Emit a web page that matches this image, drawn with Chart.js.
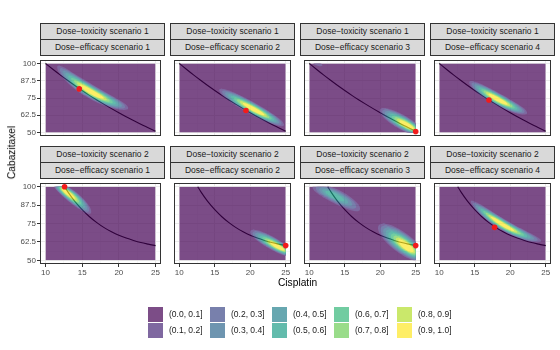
<!DOCTYPE html>
<html>
<head>
<meta charset="utf-8">
<script src="https://cdn.jsdelivr.net/npm/chart.js@4.4.1/dist/chart.umd.min.js"></script>
<style>
  body { margin: 0; width: 560px; height: 350px; background: #fff; position: relative; overflow: hidden;
         font-family: "Liberation Sans", Arial, sans-serif; }
  .strip { position: absolute; box-sizing: border-box; background: #d9d9d9; border: 1px solid #333;
           color: #1a1a1a; font-size: 8.5px; text-align: center; line-height: 15px; white-space: nowrap; }
  canvas { position: absolute; }
  .title { position: absolute; color: #000; font-size: 10.2px; white-space: nowrap; }
  .key { position: absolute; width: 15px; height: 15px; }
  .klab { position: absolute; font-size: 8.5px; color: #1a1a1a; white-space: nowrap; line-height: 15px; }
</style>
</head>
<body>
<script>
// facet labels
const toxLabels = ['Dose\u2212toxicity scenario 1', 'Dose\u2212toxicity scenario 2'];
const effLabels = ['Dose\u2212efficacy scenario 1', 'Dose\u2212efficacy scenario 2',
                   'Dose\u2212efficacy scenario 3', 'Dose\u2212efficacy scenario 4'];

// axis ticks
const xMajor = [10, 15, 20, 25];
const xMinor = [12.5, 17.5, 22.5];
const yMajor = [50, 62.5, 75, 87.5, 100];
const yMinor = [56.25, 68.75, 81.25, 93.75];

// toxicity contour curves (Cisplatin, Cabazitaxel)
const curve1X = [10, 11, 12, 13, 14, 15, 16, 17, 18, 19, 20, 21, 22, 23, 24, 25];
const curve1Y = [100, 95.8, 91.7, 87.8, 84.0, 80.4, 76.9, 73.6, 70.4, 67.3, 64.3, 61.4, 58.7, 56.0, 53.5, 51.0];
const curve2X = [12.6, 13, 14, 15, 16, 17, 18, 19, 20, 21, 22, 23, 24, 25];
const curve2Y = [100, 96.8, 90.0, 84.4, 79.6, 75.6, 72.2, 69.4, 67.0, 65.1, 63.5, 62.1, 61.0, 60.0];

// selected combination per panel (row by row)
const optX = [14.6, 19.4, 25.0, 17.0, 12.6, 25.0, 25.0, 17.8];
const optY = [81.6, 65.9, 50.8, 73.6, 100, 60.0, 60.0, 72.4];

// posterior probability regions per panel:
// [start x, y, middle x, y, end x, y, peak x, y, spread, highest level]
const densityBlobs = [
  [[11.7, 97.8, 15.9, 80.5, 21.2, 67.6, 16.2, 78.0, 0.17, 10]],
  [[15.7, 80.9, 20.3, 67.4, 24.7, 55.4, 20.7, 67.2, 0.17, 10]],
  [[20.1, 66.3, 23.0, 57.6, 26.0, 49.0, 24.1, 55.4, 0.30, 10],
   [10.6, 100.5, 11.2, 99.6, 11.8, 98.6, 11.2, 99.6, 0.40, 2]],
  [[14.3, 86.5, 18.3, 73.9, 22.3, 64.1, 18.3, 73.6, 0.19, 10]],
  [[11.2, 102.0, 13.7, 93.0, 16.1, 82.3, 13.1, 98.3, 0.26, 10]],
  [[20.1, 69.6, 22.5, 63.2, 26.0, 53.5, 24.1, 58.9, 0.26, 10]],
  [[10.6, 100.0, 13.9, 93.0, 17.0, 84.5, 13.7, 96.6, 0.28, 6],
   [20.0, 72.8, 22.7, 63.2, 26.0, 51.0, 24.3, 61.1, 0.38, 10]],
  [[14.5, 90.0, 19.4, 73.0, 24.3, 63.2, 18.7, 73.4, 0.14, 10]]
];

const levelLabels = ['(0.0, 0.1]', '(0.1, 0.2]', '(0.2, 0.3]', '(0.3, 0.4]', '(0.4, 0.5]',
                     '(0.5, 0.6]', '(0.6, 0.7]', '(0.7, 0.8]', '(0.8, 0.9]', '(0.9, 1.0]'];
const viridis = ['#440154', '#482878', '#3E4A89', '#31688E', '#26828E',
                 '#1F9E89', '#35B779', '#6DCD59', '#B4DE2C', '#FDE725'];

const FONT = '"Liberation Sans", Arial, sans-serif';
const colLeft = [40, 170, 300, 430];
const rowTop = [23, 146];
const panelW = 125;

// fills one banana shaped region: circles stamped along a bent spine
function stampLevel(o, pts, cum, a, b, R) {
  const L = cum[cum.length - 1];
  const mid = (a + b) / 2, hs = (b - a) / 2;
  const n = Math.max(2, Math.ceil((b - a) * L * 2));
  o.beginPath();
  let j = 0;
  for (let i = 0; i <= n; i++) {
    const u = a + (b - a) * i / n;
    const d = u * L;
    while (j < cum.length - 2 && cum[j + 1] < d) j++;
    const f = (d - cum[j]) / ((cum[j + 1] - cum[j]) || 1);
    const x = pts[j][0] + (pts[j + 1][0] - pts[j][0]) * f;
    const y = pts[j][1] + (pts[j + 1][1] - pts[j][1]) * f;
    const q = (u - mid) / hs;
    const r = R * Math.sqrt(Math.max(0, 1 - q * q));
    if (r < 0.2) continue;
    o.moveTo(x + r, y);
    o.arc(x, y, r, 0, Math.PI * 2);
  }
  o.fill();
}

function tilesPlugin(blobs) {
  return {
    id: 'tiles',
    afterDatasetDraw(chart, args) {
      if (chart.data.datasets[args.index].label !== 'curve') return;
      const xs = chart.scales.x, ys = chart.scales.y;
      const px = (x, y) => [xs.getPixelForValue(x), ys.getPixelForValue(y)];
      const oc = document.createElement('canvas');
      oc.width = chart.width; oc.height = chart.height;
      const o = oc.getContext('2d');
      const left = xs.getPixelForValue(10), right = xs.getPixelForValue(25);
      const top = ys.getPixelForValue(100), bottom = ys.getPixelForValue(50);
      o.beginPath(); o.rect(left, top, right - left, bottom - top); o.clip();
      o.fillStyle = viridis[0];
      o.fillRect(left, top, right - left, bottom - top);
      blobs.forEach(b => {
        const p0 = px(b[0], b[1]), pm = px(b[2], b[3]), p2 = px(b[4], b[5]), pk = px(b[6], b[7]);
        const c = [2 * pm[0] - (p0[0] + p2[0]) / 2, 2 * pm[1] - (p0[1] + p2[1]) / 2];
        const pts = [], cum = [0];
        for (let i = 0; i <= 80; i++) {
          const t = i / 80, w0 = (1 - t) * (1 - t), w1 = 2 * t * (1 - t), w2 = t * t;
          pts.push([w0 * p0[0] + w1 * c[0] + w2 * p2[0], w0 * p0[1] + w1 * c[1] + w2 * p2[1]]);
          if (i > 0) cum.push(cum[i - 1] + Math.hypot(pts[i][0] - pts[i - 1][0], pts[i][1] - pts[i - 1][1]));
        }
        const L = cum[80];
        let best = 0, bd = Infinity;
        pts.forEach((p, i) => { const d = Math.hypot(p[0] - pk[0], p[1] - pk[1]); if (d < bd) { bd = d; best = i; } });
        const up = cum[best] / L;
        const topLevel = b[9];
        for (let k = 2; k <= topLevel; k++) {
          const t = topLevel > 2 ? (k - 2) / (topLevel - 1) : 0;
          const s = 1 - 0.75 * t;
          o.fillStyle = viridis[k - 1];
          stampLevel(o, pts, cum, up * (1 - s), up + (1 - up) * s, b[8] * L / 2 * Math.pow(s, 1.1));
        }
      });
      const ctx = chart.ctx;
      ctx.save();
      ctx.globalAlpha = 0.7;
      ctx.drawImage(oc, 0, 0, chart.width, chart.height);
      ctx.restore();
    }
  };
}

const borderPlugin = {
  id: 'panelBorder',
  afterDraw(chart) {
    const a = chart.chartArea, ctx = chart.ctx;
    ctx.save();
    ctx.strokeStyle = '#333';
    ctx.lineWidth = 1;
    ctx.strokeRect(a.left + 0.5, a.top + 0.5, a.right - a.left - 1, a.bottom - a.top - 1);
    ctx.restore();
  }
};

function axis(major, minor, min, max, showLabels, size, vertical) {
  return {
    type: 'linear', min: min, max: max,
    position: vertical ? 'left' : 'bottom',
    afterBuildTicks: s => { s.ticks = major.concat(minor).sort((a, b) => a - b).map(v => ({ value: v })); },
    afterFit: s => {
      if (vertical) s.width = size; else s.height = size;
      s.paddingLeft = s.paddingRight = s.paddingTop = s.paddingBottom = 0;
    },
    border: { display: false },
    grid: {
      color: c => major.includes(c.tick.value) ? '#ebebeb' : '#f4f4f4',
      lineWidth: c => major.includes(c.tick.value) ? 1 : 0.6,
      drawTicks: showLabels,
      tickLength: 3,
      tickColor: c => major.includes(c.tick.value) ? '#333' : 'rgba(0,0,0,0)'
    },
    ticks: {
      display: showLabels,
      padding: 1,
      color: '#4d4d4d',
      font: { family: FONT, size: 8 },
      maxRotation: 0,
      autoSkip: false,
      callback: v => major.includes(v) ? String(v) : ''
    }
  };
}

function addDiv(cls, text, x, y, w, h) {
  const d = document.createElement('div');
  d.className = cls;
  d.textContent = text;
  d.style.left = x + 'px'; d.style.top = y + 'px';
  if (w) d.style.width = w + 'px';
  if (h) d.style.height = h + 'px';
  document.body.appendChild(d);
  return d;
}

for (let r = 0; r < 2; r++) {
  for (let c = 0; c < 4; c++) {
    const i = r * 4 + c;
    const px = colLeft[c];
    addDiv('strip', toxLabels[r], px, rowTop[r], panelW, 17);
    addDiv('strip', effLabels[c], px, rowTop[r] + 16, panelW, 17);

    const panelTop = rowTop[r] + 33;
    const panelH = r === 0 ? 84 : 85;
    const yw = c === 0 ? 40 : 0;
    const xh = r === 1 ? 16 : 0;
    const cv = document.createElement('canvas');
    cv.width = panelW + yw; cv.height = panelH + xh;
    cv.style.left = (px - yw) + 'px'; cv.style.top = panelTop + 'px';
    document.body.appendChild(cv);

    const cx = r === 0 ? curve1X : curve2X;
    const cy = r === 0 ? curve1Y : curve2Y;
    new Chart(cv, {
      type: 'scatter',
      data: {
        datasets: [{
          label: 'opt',
          data: [{ x: optX[i], y: optY[i] }],
          pointRadius: 2.8,
          pointBackgroundColor: '#f21b1b',
          pointBorderWidth: 0,
          clip: false
        }, {
          label: 'curve',
          data: cx.map((x, j) => ({ x: x, y: cy[j] })),
          showLine: true,
          pointRadius: 0,
          borderColor: '#000',
          borderWidth: 1.1,
          cubicInterpolationMode: 'monotone'
        }]
      },
      options: {
        responsive: false,
        animation: false,
        events: [],
        layout: { padding: 0 },
        plugins: { legend: { display: false }, tooltip: { enabled: false } },
        scales: {
          x: axis(xMajor, xMinor, 9.25, 25.75, r === 1, xh, false),
          y: axis(yMajor, yMinor, 47.5, 102.5, c === 0, yw, true)
        }
      },
      plugins: [tilesPlugin(densityBlobs[i]), borderPlugin]
    });
  }
}

// axis titles
const xt = addDiv('title', 'Cisplatin', 0, 277);
xt.style.left = (297.5 - xt.offsetWidth / 2) + 'px';
const yt = addDiv('title', 'Cabazitaxel', 0, 0);
yt.style.left = (11 - yt.offsetWidth / 2) + 'px';
yt.style.top = (152 - yt.offsetHeight / 2) + 'px';
yt.style.transform = 'rotate(-90deg)';

// legend
const keyX = [148, 210, 272, 334, 397];
const keyY = [307, 323];
levelLabels.forEach((lab, k) => {
  const col = Math.floor(k / 2), row = k % 2;
  const key = addDiv('key', '', keyX[col], keyY[row]);
  const h = viridis[k];
  const rgb = [1, 3, 5].map(p => parseInt(h.substr(p, 2), 16));
  key.style.background = 'rgba(' + rgb.join(',') + ',0.7)';
  addDiv('klab', lab, keyX[col] + 21, keyY[row]);
});
</script>
</body>
</html>
